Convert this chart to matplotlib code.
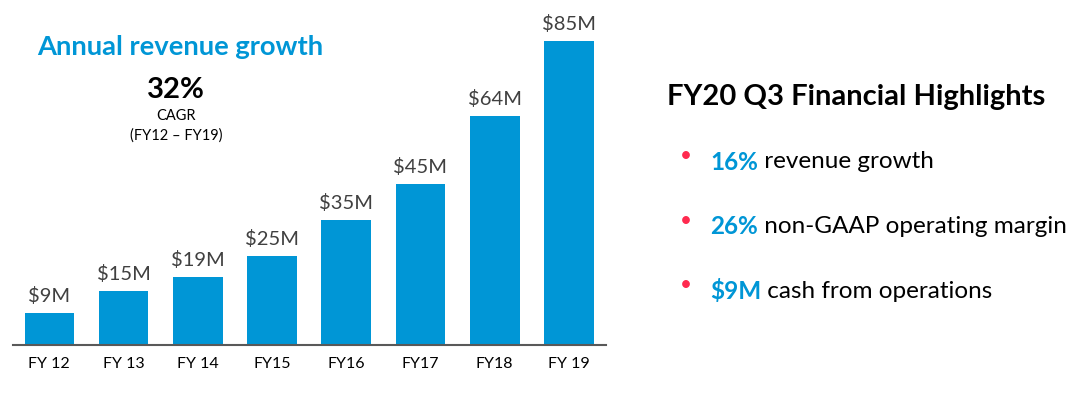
import matplotlib
matplotlib.use("Agg")
import matplotlib.pyplot as plt

plt.rcParams['font.family'] = ['Lato', 'DejaVu Sans']

years = ['FY 12', 'FY 13', 'FY 14', 'FY15', 'FY16', 'FY17', 'FY18', 'FY 19']
revenue = [9, 15, 19, 25, 35, 45, 64, 85]
bar_labels = ['$9M', '$15M', '$19M', '$25M', '$35M', '$45M', '$64M', '$85M']

highlight_nums = ['16%', '26%', '$9M']
highlight_text = [' revenue growth', ' non-GAAP operating margin', ' cash from operations']

blue = '#0096d6'
W, H = 1081, 395

fig = plt.figure(figsize=(W / 100, H / 100), dpi=100)
ax = fig.add_axes([13 / W, 50 / H, 593 / W, 340 / H])

x = range(len(years))
ax.bar(x, revenue, width=0.67, color=blue)
for xi, v, lab in zip(x, revenue, bar_labels):
    ax.text(xi, v + 2.2, lab, ha='center', va='bottom', fontsize=14.5, color='#404040')

ax.set_xlim(-0.49, 7.5)
ax.set_ylim(0, 95)
ax.set_xticks(list(x))
ax.set_xticklabels(years, fontsize=11.5)
ax.tick_params(axis='x', length=0, pad=9)
ax.set_yticks([])
for s in ['top', 'right', 'left']:
    ax.spines[s].set_visible(False)
ax.spines['bottom'].set_color('#595959')
ax.spines['bottom'].set_linewidth(1.5)

# left text block
fig.text(180 / W, 1 - 47 / H, 'Annual revenue growth', ha='center', va='center',
         fontsize=19.7, fontweight='bold', color=blue)
fig.text(176 / W, 1 - 90 / H, '32%', ha='center', va='center',
         fontsize=21, fontweight='bold', color='black')
fig.text(176 / W, 1 - 116 / H, 'CAGR', ha='center', va='center', fontsize=10.5)
fig.text(176 / W, 1 - 136 / H, '(FY12 – FY19)', ha='center', va='center', fontsize=10.5)

# right panel
fig.text(667 / W, 1 - 97 / H, 'FY20 Q3 Financial Highlights', ha='left', va='center',
         fontsize=21, fontweight='bold', color='black')

fig.canvas.draw()
renderer = fig.canvas.get_renderer()
rows_y = [162, 227, 291]
for yy, num, txt in zip(rows_y, highlight_nums, highlight_text):
    fig.text(686 / W, 1 - (yy - 6) / H, '•', ha='center', va='center',
             fontsize=15, color='#ff2a4f')
    t = fig.text(710 / W, 1 - yy / H, num, ha='left', va='center',
                 fontsize=17.5, fontweight='bold', color=blue)
    bb = t.get_window_extent(renderer)
    fig.text(bb.x1 / W, 1 - yy / H, txt, ha='left', va='center',
             fontsize=17.5, color='black')

fig.savefig('out.png', dpi=100)
